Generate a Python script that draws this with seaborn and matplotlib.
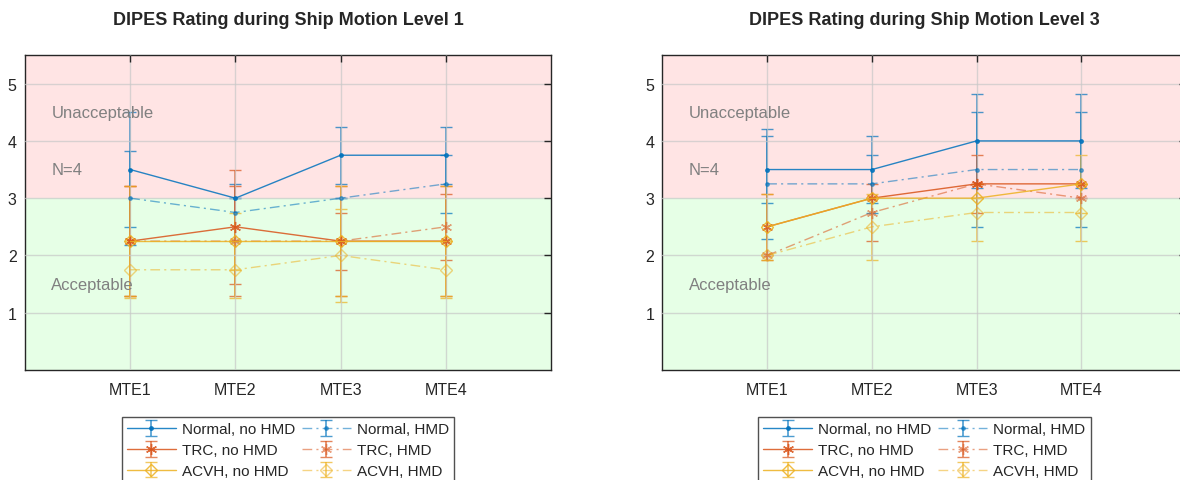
import numpy as np
import pandas as pd
import matplotlib.pyplot as plt
import seaborn as sns
from matplotlib.legend_handler import HandlerTuple

# data: mean DIPES ratings and standard deviations per MTE
mtes = ['MTE1', 'MTE2', 'MTE3', 'MTE4']
series = ['Normal, no HMD', 'Normal, HMD', 'TRC, no HMD', 'TRC, HMD', 'ACVH, no HMD', 'ACVH, HMD']

lvl1_mean = {
    'Normal, no HMD': [3.5, 3.0, 3.75, 3.75],
    'Normal, HMD':    [3.0, 2.75, 3.0, 3.25],
    'TRC, no HMD':    [2.25, 2.5, 2.25, 2.25],
    'TRC, HMD':       [2.25, 2.25, 2.25, 2.5],
    'ACVH, no HMD':   [2.25, 2.25, 2.25, 2.25],
    'ACVH, HMD':      [1.75, 1.75, 2.0, 1.75],
}
lvl1_sd = {
    'Normal, no HMD': [1.0, 0.0, 0.5, 0.5],
    'Normal, HMD':    [0.816, 0.5, 0.0, 0.5],
    'TRC, no HMD':    [0.957, 1.0, 0.957, 0.957],
    'TRC, HMD':       [0.957, 0.957, 0.5, 0.577],
    'ACVH, no HMD':   [0.957, 0.5, 0.957, 0.957],
    'ACVH, HMD':      [0.5, 0.5, 0.816, 0.5],
}
lvl3_mean = {
    'Normal, no HMD': [3.5, 3.5, 4.0, 4.0],
    'Normal, HMD':    [3.25, 3.25, 3.5, 3.5],
    'TRC, no HMD':    [2.5, 3.0, 3.25, 3.25],
    'TRC, HMD':       [2.0, 2.75, 3.25, 3.0],
    'ACVH, no HMD':   [2.5, 3.0, 3.0, 3.25],
    'ACVH, HMD':      [2.0, 2.5, 2.75, 2.75],
}
lvl3_sd = {
    'Normal, no HMD': [0.577, 0.577, 0.816, 0.816],
    'Normal, HMD':    [0.957, 0.5, 1.0, 1.0],
    'TRC, no HMD':    [0.577, 0.0, 0.5, 0.0],
    'TRC, HMD':       [0.0, 0.5, 0.0, 0.0],
    'ACVH, no HMD':   [0.577, 0.0, 0.0, 0.5],
    'ACVH, HMD':      [0.0, 0.577, 0.5, 0.5],
}

colors = {'Normal': '#0072BD', 'TRC': '#D95319', 'ACVH': '#EDB120'}
markers = {'Normal': '.', 'TRC': (6, 2, 0), 'ACVH': 'D'}
msizes = {'Normal': 5, 'TRC': 8, 'ACVH': 6.5}
dashdot = (0, (7, 3, 1.5, 3))

sns.set_theme(style='white')
plt.rcParams['font.family'] = ['Liberation Sans', 'DejaVu Sans']

fig = plt.figure(figsize=(11.8, 4.81), dpi=100)
ax1 = fig.add_axes([25 / 1180, 110 / 481, 526 / 1180, 315 / 481])
ax2 = fig.add_axes([662.5 / 1180, 110 / 481, 523.5 / 1180, 315 / 481])


def draw(ax, means, sds, title):
    ax.axhspan(3, 5.5, color='#FFE4E4', zorder=0, lw=0)
    ax.axhspan(0, 3, color='#E6FFE6', zorder=0, lw=0)
    handles = {}
    for s in series:
        base = s.split(',')[0]
        hmd = 'no HMD' not in s
        col = colors[base]
        x = np.arange(1, 5)
        df = pd.DataFrame({'x': x, 'y': means[s]})
        ls = dashdot if hmd else '-'
        a = 0.55 if hmd else 0.85
        sns.lineplot(data=df, x='x', y='y', ax=ax, color=col, lw=1.0, alpha=a,
                     linestyle=ls, marker=markers[base], markersize=msizes[base],
                     markerfacecolor='none' if base == 'ACVH' else col,
                     markeredgecolor=col, markeredgewidth=1.0, legend=False, zorder=3)
        line = ax.lines[-1]
        eb = ax.errorbar(x, means[s], yerr=sds[s], fmt='none', ecolor=col,
                         elinewidth=1.2, capsize=4.5, capthick=1.0, alpha=0.7, zorder=2)
        handles[s] = (eb, line)
    ax.text(0.25, 4.5, 'Unacceptable', color='#808080', fontsize=12, va='center')
    ax.text(0.25, 3.5, 'N=4', color='#808080', fontsize=12, va='center')
    ax.text(0.25, 1.5, 'Acceptable', color='#808080', fontsize=12, va='center')

    ax.set_xlim(0, 5)
    ax.set_ylim(0, 5.5)
    ax.set_xticks(range(1, 5))
    ax.set_xticklabels(mtes)
    ax.set_yticks([1, 2, 3, 4, 5])
    ax.set_xlabel('')
    ax.set_ylabel('')
    ax.grid(True, color='#c8c8c8', alpha=0.7, lw=1.0, zorder=1)
    ax.set_axisbelow(False)
    ax.tick_params(direction='in', length=5, width=1, top=True, right=True,
                   labelsize=11.5, colors='#262626')
    ax.tick_params(axis='x', pad=9)
    ax.tick_params(axis='y', pad=6)
    for sp in ax.spines.values():
        sp.set_color('#262626')
        sp.set_linewidth(1.0)
    ax.set_title(title, fontsize=13, fontweight='bold', pad=22)

    # legend fills row by row, so order column-wise for matplotlib
    order = series[0::2] + series[1::2]
    leg = ax.legend([handles[s] for s in order], order, ncol=2, loc='upper center',
                    bbox_to_anchor=(0.5, -0.125), fontsize=11, frameon=True,
                    fancybox=False, edgecolor='#262626', handlelength=3.2,
                    handletextpad=0.4, columnspacing=0.45, labelspacing=0.45,
                    borderpad=0.35, handler_map={tuple: HandlerTuple(ndivide=1)})
    leg.get_frame().set_linewidth(1.0)


draw(ax1, lvl1_mean, lvl1_sd, 'DIPES Rating during Ship Motion Level 1')
draw(ax2, lvl3_mean, lvl3_sd, 'DIPES Rating during Ship Motion Level 3')

fig.savefig('out.png', dpi=100)
